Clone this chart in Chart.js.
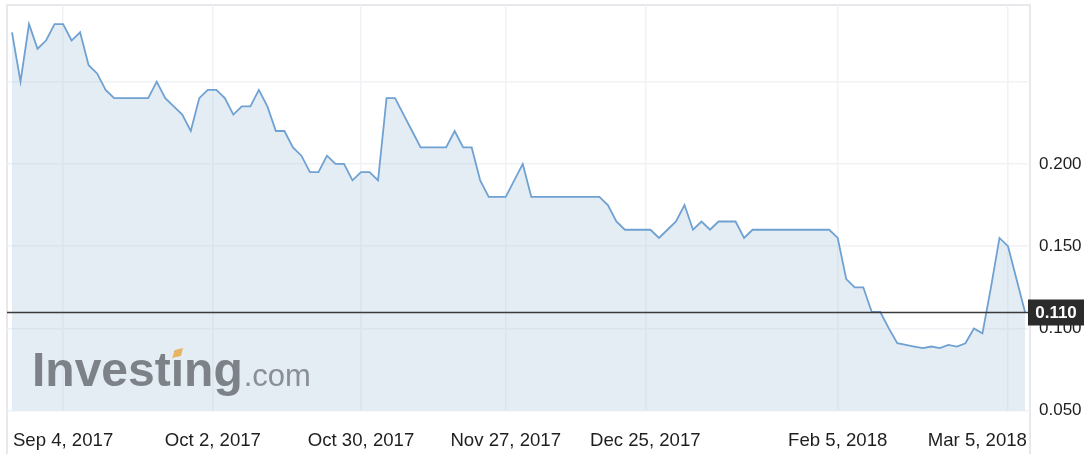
<!DOCTYPE html>
<html>
<head>
<meta charset="utf-8">
<script src="https://cdn.jsdelivr.net/npm/chart.js@4.4.1/dist/chart.umd.min.js"></script>
<style>
  html, body { margin: 0; padding: 0; background: #ffffff; }
  #wrap { width: 1086px; height: 454px; position: relative; }
  canvas { display: block; }
</style>
</head>
<body>
<div id="wrap"><canvas id="c" width="1086" height="454"></canvas></div>
<script>
// ---- data (one value per traded session) ----
const prices = [
  0.280, 0.250, 0.285, 0.270, 0.275, 0.285, 0.285, 0.275, 0.280, 0.260,
  0.255, 0.245, 0.240, 0.240, 0.240, 0.240, 0.240, 0.250, 0.240, 0.235,
  0.230, 0.220, 0.240, 0.245, 0.245, 0.240, 0.230, 0.235, 0.235, 0.245,
  0.235, 0.220, 0.220, 0.210, 0.205, 0.195, 0.195, 0.205, 0.200, 0.200,
  0.190, 0.195, 0.195, 0.190, 0.240, 0.240, 0.230, 0.220, 0.210, 0.210,
  0.210, 0.210, 0.220, 0.210, 0.210, 0.190, 0.180, 0.180, 0.180, 0.190,
  0.200, 0.180, 0.180, 0.180, 0.180, 0.180, 0.180, 0.180, 0.180, 0.180,
  0.175, 0.165, 0.160, 0.160, 0.160, 0.160, 0.155, 0.160, 0.165, 0.175,
  0.160, 0.165, 0.160, 0.165, 0.165, 0.165, 0.155, 0.160, 0.160, 0.160,
  0.160, 0.160, 0.160, 0.160, 0.160, 0.160, 0.160, 0.155, 0.130, 0.125,
  0.125, 0.110, 0.110, 0.100, 0.091, 0.090, 0.089, 0.088, 0.089, 0.088,
  0.090, 0.089, 0.091, 0.100, 0.097, 0.125, 0.155, 0.150, 0.130, 0.110
];
const dateLabels = ["Sep 4, 2017", "Oct 2, 2017", "Oct 30, 2017", "Nov 27, 2017",
                    "Dec 25, 2017", "Feb 5, 2018", "Mar 5, 2018"];
const dateGridIndex = [6, 23.6, 41, 58, 74.4, 97, 117];      // session index of each date
const dateLabelIndex = [6, 23.6, 41, 58, 74.4, 97, 113.4];   // last label pulled inside
const priceTicks = [0.05, 0.10, 0.15, 0.20, 0.25];
const priceTickLabels = ["0.050", "0.100", "0.150", "0.200", ""];
const lastPrice = 0.110;

const FONT = '"Liberation Sans", Arial, Helvetica, sans-serif';

function noPad(s) {
  s.paddingTop = 0; s.paddingBottom = 0; s.paddingLeft = 0; s.paddingRight = 0;
}

const framePlugin = {
  id: 'frame',
  beforeDraw(chart) {
    const ctx = chart.ctx, a = chart.chartArea;
    ctx.save();
    ctx.fillStyle = '#ffffff';
    ctx.fillRect(0, 0, chart.width, chart.height);
    ctx.strokeStyle = '#e6e8ec';
    ctx.lineWidth = 2;
    ctx.beginPath();
    ctx.moveTo(a.left, chart.height);
    ctx.lineTo(a.left, a.top);
    ctx.lineTo(a.right, a.top);
    ctx.lineTo(a.right, chart.height);
    ctx.stroke();
    ctx.restore();
  },
  afterDatasetsDraw(chart) {
    const ctx = chart.ctx;
    ctx.save();
    // watermark
    ctx.textBaseline = 'alphabetic';
    ctx.textAlign = 'left';
    ctx.font = 'bold 48px ' + FONT;
    ctx.fillStyle = '#7d8288';
    ctx.fillText('Investing', 32, 386);
    const w = ctx.measureText('Investing').width;
    ctx.font = '31px ' + FONT;
    ctx.fillStyle = '#8a8f95';
    ctx.fillText('.com', 32 + w + 1, 386);
    ctx.fillStyle = '#e9b463';
    ctx.beginPath();
    ctx.moveTo(172, 358);
    ctx.lineTo(181, 356);
    ctx.lineTo(183, 348);
    ctx.lineTo(175, 350);
    ctx.closePath();
    ctx.fill();
    ctx.restore();
  },
  afterDraw(chart) {
    const ctx = chart.ctx, a = chart.chartArea;
    const y = Math.round(chart.scales.y.getPixelForValue(lastPrice)) + 0.5;
    ctx.save();
    ctx.strokeStyle = '#3a3a3a';
    ctx.lineWidth = 1.5;
    ctx.beginPath();
    ctx.moveTo(a.left, y);
    ctx.lineTo(a.right, y);
    ctx.stroke();
    ctx.fillStyle = '#2b2b2b';
    ctx.fillRect(a.right - 2, y - 13, 56, 26);
    ctx.fillStyle = '#ffffff';
    ctx.font = 'bold 17px ' + FONT;
    ctx.textAlign = 'center';
    ctx.textBaseline = 'middle';
    ctx.fillText(lastPrice.toFixed(3), a.right + 26, y + 1);
    ctx.restore();
  }
};

new Chart(document.getElementById('c'), {
  type: 'line',
  data: {
    datasets: [{
      data: prices.map((v, i) => ({ x: i, y: v })),
      borderColor: '#6fa1d3',
      borderWidth: 1.8,
      backgroundColor: 'rgba(165,195,215,0.30)',
      fill: 'start',
      pointRadius: 0,
      pointHoverRadius: 0,
      tension: 0
    }]
  },
  options: {
    responsive: false,
    animation: false,
    devicePixelRatio: 1,
    events: [],
    layout: { padding: { top: 5, left: 7, right: 0, bottom: 0 } },
    plugins: { legend: { display: false }, tooltip: { enabled: false } },
    scales: {
      x: {
        type: 'linear',
        position: 'bottom',
        min: -0.587, max: 119.587,
        grid: { display: false },
        border: { display: false },
        afterBuildTicks(s) { s.ticks = dateLabelIndex.map(v => ({ value: v })); },
        afterFit(s) { s.height = 43.3; noPad(s); },
        ticks: {
          autoSkip: false, maxRotation: 0, minRotation: 0,
          padding: 11,
          color: '#1e1e1e',
          font: { family: FONT, size: 18.6 },
          callback(v, i) { return dateLabels[i]; }
        }
      },
      xg: {
        type: 'linear',
        position: 'bottom',
        min: -0.587, max: 119.587,
        border: { display: false },
        grid: { color: '#f0f2f5', lineWidth: 1.5, drawTicks: false },
        afterBuildTicks(s) { s.ticks = dateGridIndex.map(v => ({ value: v })); },
        afterFit(s) { s.height = 0; noPad(s); },
        ticks: { display: false }
      },
      y: {
        type: 'linear',
        position: 'right',
        min: 0.05, max: 0.2966,
        border: { display: false },
        grid: { color: '#f0f2f5', lineWidth: 1.5, drawTicks: false },
        afterBuildTicks(s) { s.ticks = priceTicks.map(v => ({ value: v })); },
        afterFit(s) { s.width = 56; noPad(s); },
        ticks: {
          padding: 9,
          color: '#1e1e1e',
          font: { family: FONT, size: 17 },
          callback(v, i) { return priceTickLabels[i]; }
        }
      }
    }
  },
  plugins: [framePlugin]
});
</script>
</body>
</html>
